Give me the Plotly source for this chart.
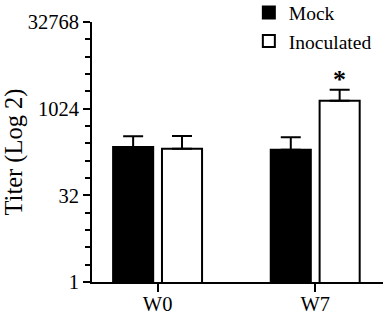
import math
import plotly.graph_objects as go

categories = ["W0", "W7"]
mock_values = [222, 199]
mock_errors = [118, 127]
inoc_values = [207, 1409]
inoc_errors = [135, 771]
tick_values = [1, 32, 1024, 32768]
tick_labels = ["1", "32", "1024", "32768"]
minor_values = [2 ** k for k in range(16)]

FONT = "Liberation Serif"

fig = go.Figure()
fig.add_trace(go.Bar(
    name="Mock", x=categories, y=mock_values,
    marker=dict(color="black", line=dict(color="black", width=2)),
    error_y=dict(type="data", array=mock_errors, arrayminus=[0, 0], symmetric=False,
                 color="black", thickness=2, width=10),
))
fig.add_trace(go.Bar(
    name="Inoculated", x=categories, y=inoc_values,
    marker=dict(color="white", line=dict(color="black", width=2)),
    error_y=dict(type="data", array=inoc_errors, arrayminus=[0, 0], symmetric=False,
                 color="black", thickness=2, width=10),
))

fig.add_annotation(
    x=1, y=math.log10(inoc_values[1] + inoc_errors[1]), xref="x", yref="y",
    text="<b>*</b>", showarrow=False, xshift=24, yanchor="bottom", yshift=-6,
    font=dict(family=FONT, size=26, color="black"),
)

fig.update_layout(
    width=383, height=313,
    margin=dict(l=92, r=0, t=22, b=31, autoexpand=False),
    paper_bgcolor="white", plot_bgcolor="white",
    barmode="group", bargap=0.38, bargroupgap=0.18,
    font=dict(family=FONT, size=20, color="black"),
    showlegend=True,
    legend=dict(x=0.539, y=1.11, xref="paper", yref="paper",
                xanchor="left", yanchor="top",
                font=dict(family=FONT, size=19.5, color="black"),
                bgcolor="rgba(0,0,0,0)", tracegroupgap=0, itemsizing="constant"),
    xaxis=dict(
        range=[-0.416, 1.43], showline=True, linecolor="black", linewidth=2,
        ticks="outside", ticklen=8, tickwidth=2, tickcolor="black",
        ticklabelstandoff=-6,
        showgrid=False, zeroline=False, tickfont=dict(family=FONT, size=20.5),
    ),
    yaxis=dict(
        type="log", range=[0, math.log10(32768)],
        showline=True, linecolor="black", linewidth=2,
        tickmode="array", tickvals=tick_values, ticktext=tick_labels,
        ticks="outside", ticklen=7, tickwidth=2, tickcolor="black",
        showgrid=False, zeroline=False, tickfont=dict(family=FONT, size=20.5),
        minor=dict(tickmode="array", tickvals=minor_values, ticks="outside",
                   ticklen=5, tickwidth=2, tickcolor="black", showgrid=False),
        title=dict(text="Titer (Log 2)", font=dict(family=FONT, size=24.5), standoff=7),
    ),
)

fig.write_html("out.html", config={"displayModeBar": False},
               post_script="document.body.style.margin='0';")
